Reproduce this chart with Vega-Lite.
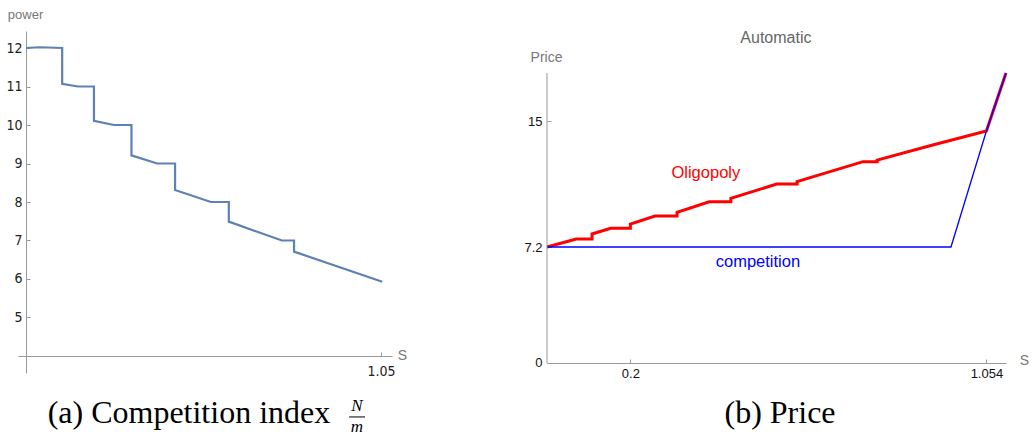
{
  "$schema": "https://vega.github.io/schema/vega-lite/v6.json",
  "padding": {"left": 5, "top": 8, "right": 0, "bottom": 0},
  "background": "white",
  "config": {"view": {"stroke": null}, "axis": {"grid": false}},
  "spacing": 155,
  "bounds": "flush",
  "datasets": {
    "power": [
      {"i": 1, "S": 0, "power": 12},
      {"i": 2, "S": 0.04, "power": 12.02},
      {"i": 3, "S": 0.107, "power": 12.0},
      {"i": 4, "S": 0.107, "power": 11.07},
      {"i": 5, "S": 0.154, "power": 11.0},
      {"i": 6, "S": 0.201, "power": 11.0},
      {"i": 7, "S": 0.201, "power": 10.11},
      {"i": 8, "S": 0.26, "power": 10.0},
      {"i": 9, "S": 0.312, "power": 10.0},
      {"i": 10, "S": 0.312, "power": 9.21},
      {"i": 11, "S": 0.388, "power": 9.0},
      {"i": 12, "S": 0.441, "power": 9.0},
      {"i": 13, "S": 0.441, "power": 8.31},
      {"i": 14, "S": 0.547, "power": 8.0},
      {"i": 15, "S": 0.6, "power": 8.0},
      {"i": 16, "S": 0.6, "power": 7.49},
      {"i": 17, "S": 0.757, "power": 7.0},
      {"i": 18, "S": 0.793, "power": 7.0},
      {"i": 19, "S": 0.793, "power": 6.71},
      {"i": 20, "S": 1.054, "power": 5.93}
    ],
    "oligopoly": [
      {"i": 1, "S": 0, "Price": 7.2},
      {"i": 2, "S": 0.07, "Price": 7.7},
      {"i": 3, "S": 0.108, "Price": 7.7},
      {"i": 4, "S": 0.108, "Price": 8.01},
      {"i": 5, "S": 0.153, "Price": 8.36},
      {"i": 6, "S": 0.2, "Price": 8.36},
      {"i": 7, "S": 0.2, "Price": 8.63},
      {"i": 8, "S": 0.259, "Price": 9.12},
      {"i": 9, "S": 0.312, "Price": 9.12},
      {"i": 10, "S": 0.312, "Price": 9.35},
      {"i": 11, "S": 0.389, "Price": 10.01},
      {"i": 12, "S": 0.441, "Price": 10.01},
      {"i": 13, "S": 0.441, "Price": 10.22},
      {"i": 14, "S": 0.551, "Price": 11.11},
      {"i": 15, "S": 0.6, "Price": 11.11},
      {"i": 16, "S": 0.6, "Price": 11.26},
      {"i": 17, "S": 0.758, "Price": 12.5},
      {"i": 18, "S": 0.792, "Price": 12.5},
      {"i": 19, "S": 0.792, "Price": 12.6},
      {"i": 20, "S": 0.923, "Price": 13.52},
      {"i": 21, "S": 1.054, "Price": 14.4},
      {"i": 22, "S": 1.101, "Price": 18}
    ],
    "competition": [
      {"i": 1, "S": 0, "Price": 7.2},
      {"i": 2, "S": 0.969, "Price": 7.2},
      {"i": 3, "S": 1.054, "Price": 14.4},
      {"i": 4, "S": 1.101, "Price": 18}
    ],
    "one": [{"k": 1}]
  },
  "hconcat": [
    {
      "width": 374,
      "height": 342,
      "layer": [
        {
          "data": {"name": "power"},
          "mark": {"type": "line", "color": "#5E81B5", "strokeWidth": 2.2, "clip": false},
          "encoding": {
            "x": {
              "field": "S", "type": "quantitative",
              "scale": {"domain": [-0.0237, 1.0828], "nice": false, "zero": false},
              "axis": {
                "values": [1.05], "labelExpr": "'' + datum.value", "offset": -17,
                "domainColor": "#999", "tickColor": "#999", "tickSize": -4, "labelPadding": 12,
                "labelFont": "Liberation Sans Narrow, DejaVu Sans Condensed, Liberation Sans",
                "labelFontSize": 14, "labelColor": "#222",
                "title": "S", "titleFont": "Liberation Sans Narrow, Liberation Sans", "titleFontSize": 14,
                "titleFontWeight": "normal", "titleColor": "#777", "titleX": 384, "titleY": -1,
                "titleAlign": "center", "titleBaseline": "middle", "titleAngle": 0
              }
            },
            "y": {
              "field": "power", "type": "quantitative",
              "scale": {"domain": [3.558, 12.442], "nice": false, "zero": false},
              "axis": {
                "values": [5, 6, 7, 8, 9, 10, 11, 12], "offset": -8,
                "domainColor": "#999", "tickColor": "#999", "tickSize": -4, "labelPadding": 8,
                "labelFont": "Liberation Sans Narrow, DejaVu Sans Condensed, Liberation Sans",
                "labelFontSize": 14, "labelColor": "#222",
                "title": "power", "titleFont": "Liberation Sans Narrow, Liberation Sans", "titleFontSize": 13,
                "titleFontWeight": "normal", "titleColor": "#777", "titleX": -1, "titleY": -17,
                "titleAlign": "center", "titleBaseline": "middle", "titleAngle": 0
              }
            },
            "order": {"field": "i", "type": "quantitative"}
          }
        },
        {
          "data": {"name": "one"},
          "mark": {"type": "text", "font": "Liberation Serif, DejaVu Serif, serif", "fontSize": 32, "align": "center", "baseline": "alphabetic", "color": "#000", "clip": false},
          "encoding": {
            "x": {"datum": 0.482},
            "y": {"datum": 2.26},
            "text": {"value": "(a) Competition index"}
          }
        },
        {
          "data": {"name": "one"},
          "mark": {"type": "text", "font": "Liberation Serif, DejaVu Serif, serif", "fontStyle": "italic", "fontSize": 17, "align": "center", "baseline": "alphabetic", "color": "#000", "clip": false},
          "encoding": {
            "x": {"datum": 0.979},
            "y": {"datum": 2.58},
            "text": {"value": "N"}
          }
        },
        {
          "data": {"name": "one"},
          "mark": {"type": "text", "font": "Liberation Serif, DejaVu Serif, serif", "fontStyle": "italic", "fontSize": 17, "align": "center", "baseline": "alphabetic", "color": "#000", "clip": false},
          "encoding": {
            "x": {"datum": 0.979},
            "y": {"datum": 2.03},
            "text": {"value": "m"}
          }
        },
        {
          "data": {"name": "one"},
          "mark": {"type": "rule", "color": "#000", "strokeWidth": 1, "clip": false},
          "encoding": {
            "x": {"datum": 0.956},
            "x2": {"datum": 1.003},
            "y": {"datum": 2.416}
          }
        }
      ]
    },
    {
      "width": 459,
      "height": 342,
      "layer": [
        {
          "data": {"name": "oligopoly"},
          "mark": {"type": "line", "color": "#FF0000", "strokeWidth": 3, "clip": false},
          "encoding": {
            "x": {
              "field": "S", "type": "quantitative",
              "scale": {"domain": [0, 1.101], "nice": false, "zero": false},
              "axis": {
                "values": [0.2, 1.054], "labelExpr": "'' + datum.value", "offset": -10,
                "domainColor": "#999", "tickColor": "#999", "tickSize": -4, "labelPadding": 8,
                "labelFont": "Liberation Sans", "labelFontSize": 13, "labelColor": "#111",
                "title": "S", "titleFont": "Liberation Sans", "titleFontSize": 14,
                "titleFontWeight": "normal", "titleColor": "#777", "titleX": 477, "titleY": -3,
                "titleAlign": "center", "titleBaseline": "middle", "titleAngle": 0
              }
            },
            "y": {
              "field": "Price", "type": "quantitative",
              "scale": {"domain": [-0.621, 20.61], "nice": false, "zero": false},
              "axis": {
                "values": [0, 7.2, 15], "labelExpr": "'' + datum.value", "domain": false,
                "tickColor": "#999", "tickSize": -4, "labelPadding": 9,
                "labelFont": "Liberation Sans", "labelFontSize": 13, "labelColor": "#111",
                "title": "Price", "titleFont": "Liberation Sans", "titleFontSize": 14,
                "titleFontWeight": "normal", "titleColor": "#777", "titleX": -1, "titleY": 26,
                "titleAlign": "center", "titleBaseline": "middle", "titleAngle": 0
              }
            },
            "order": {"field": "i", "type": "quantitative"}
          }
        },
        {
          "data": {"name": "competition"},
          "mark": {"type": "line", "color": "#0000FF", "strokeWidth": 1.3, "clip": false},
          "encoding": {
            "x": {"field": "S", "type": "quantitative"},
            "y": {"field": "Price", "type": "quantitative"},
            "order": {"field": "i", "type": "quantitative"}
          }
        },
        {
          "data": {"name": "one"},
          "mark": {"type": "rule", "color": "#999", "strokeWidth": 1, "clip": false},
          "encoding": {
            "x": {"datum": 0},
            "y": {"datum": 0},
            "y2": {"datum": 18}
          }
        },
        {
          "data": {"name": "one"},
          "mark": {"type": "text", "font": "Liberation Sans", "fontSize": 16, "align": "center", "baseline": "middle", "color": "#666", "clip": false},
          "encoding": {
            "x": {"datum": 0.549},
            "y": {"datum": 20.17},
            "text": {"value": "Automatic"}
          }
        },
        {
          "data": {"name": "one"},
          "mark": {"type": "text", "font": "Liberation Sans", "fontSize": 16.5, "align": "center", "baseline": "middle", "color": "#FF0000", "clip": false},
          "encoding": {
            "x": {"datum": 0.381},
            "y": {"datum": 11.79},
            "text": {"value": "Oligopoly"}
          }
        },
        {
          "data": {"name": "one"},
          "mark": {"type": "text", "font": "Liberation Sans", "fontSize": 16.5, "align": "center", "baseline": "middle", "color": "#0000FF", "clip": false},
          "encoding": {
            "x": {"datum": 0.506},
            "y": {"datum": 6.27},
            "text": {"value": "competition"}
          }
        },
        {
          "data": {"name": "one"},
          "mark": {"type": "text", "font": "Liberation Serif, DejaVu Serif, serif", "fontSize": 32, "align": "center", "baseline": "alphabetic", "color": "#000", "clip": false},
          "encoding": {
            "x": {"datum": 0.559},
            "y": {"datum": -3.72},
            "text": {"value": "(b) Price"}
          }
        }
      ]
    }
  ]
}
